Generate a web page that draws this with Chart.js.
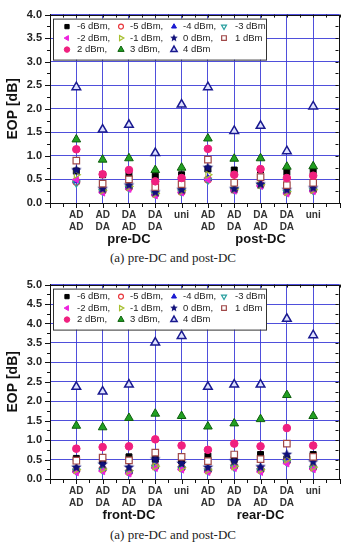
<!DOCTYPE html>
<html>
<head>
<meta charset="utf-8">
<script src="https://cdn.jsdelivr.net/npm/chart.js@4.4.0/dist/chart.umd.min.js"></script>
<style>
body{margin:0;background:#fff;width:346px;height:543px;position:relative;overflow:hidden}
canvas{position:absolute;left:0}
.cap{position:absolute;left:0;width:346px;text-align:center;font:13px/15px "Liberation Serif","DejaVu Serif",serif;color:#222}
</style>
</head>
<body>
<canvas id="c1" width="346" height="248" style="top:0"></canvas>
<div class="cap" style="top:250px">(a) pre-DC and post-DC</div>
<canvas id="c2" width="346" height="254" style="top:270px"></canvas>
<div class="cap" style="top:527px">(a) pre-DC and post-DC</div>
<script>
// categories and series
const catLabels = [['AD', 'AD'], ['AD', 'DA'], ['DA', 'AD'], ['DA', 'DA'], 'uni',
                   ['AD', 'AD'], ['AD', 'DA'], ['DA', 'AD'], ['DA', 'DA'], 'uni'];
const groupsA = ['pre-DC', 'post-DC'];
const groupsB = ['front-DC', 'rear-DC'];
const powers = ['-6 dBm', '-5 dBm', '-4 dBm', '-3 dBm', '-2 dBm', '-1 dBm',
                '0 dBm', '1 dBm', '2 dBm', '3 dBm', '4 dBm'];

// (a) pre-DC / post-DC
const preA_m6 = [0.68, 0.60, 0.61, 0.57, 0.60, 0.72, 0.70, 0.70, 0.65, 0.67];
const preA_m5 = [0.45, 0.26, 0.33, 0.19, 0.24, 0.50, 0.28, 0.38, 0.23, 0.27];
const preA_m4 = [0.47, 0.29, 0.36, 0.21, 0.27, 0.52, 0.31, 0.41, 0.26, 0.30];
const preA_m3 = [0.42, 0.24, 0.31, 0.18, 0.23, 0.48, 0.28, 0.37, 0.22, 0.26];
const preA_m2 = [0.50, 0.22, 0.30, 0.16, 0.22, 0.50, 0.26, 0.36, 0.20, 0.25];
const preA_m1 = [0.60, 0.27, 0.35, 0.20, 0.26, 0.60, 0.30, 0.39, 0.24, 0.28];
const preA_0 = [0.70, 0.30, 0.38, 0.23, 0.28, 0.75, 0.30, 0.40, 0.28, 0.32];
const preA_1 = [0.90, 0.41, 0.50, 0.34, 0.40, 0.92, 0.43, 0.55, 0.38, 0.43];
const preA_2 = [1.14, 0.61, 0.70, 0.46, 0.53, 1.15, 0.60, 0.72, 0.53, 0.58];
const preA_3 = [1.35, 0.92, 0.95, 0.70, 0.75, 1.37, 0.94, 0.95, 0.77, 0.78];
const preA_4 = [2.46, 1.56, 1.66, 1.06, 2.09, 2.46, 1.53, 1.64, 1.10, 2.05];

// (b) front-DC / rear-DC
const frB_m6 = [0.53, 0.46, 0.57, 0.51, 0.46, 0.59, 0.50, 0.63, 0.52, 0.63];
const frB_m5 = [0.22, 0.25, 0.18, 0.32, 0.28, 0.22, 0.32, 0.23, 0.45, 0.29];
const frB_m4 = [0.24, 0.27, 0.20, 0.34, 0.30, 0.24, 0.34, 0.25, 0.47, 0.31];
const frB_m3 = [0.20, 0.22, 0.16, 0.30, 0.26, 0.20, 0.30, 0.21, 0.42, 0.27];
const frB_m2 = [0.17, 0.20, 0.14, 0.28, 0.24, 0.18, 0.28, 0.18, 0.40, 0.25];
const frB_m1 = [0.24, 0.26, 0.21, 0.33, 0.29, 0.23, 0.33, 0.24, 0.50, 0.30];
const frB_0 = [0.30, 0.38, 0.30, 0.51, 0.40, 0.30, 0.46, 0.31, 0.63, 0.44];
const frB_1 = [0.47, 0.55, 0.48, 0.68, 0.57, 0.46, 0.63, 0.51, 0.91, 0.57];
const frB_2 = [0.78, 0.82, 0.84, 1.02, 0.86, 0.75, 0.91, 0.84, 1.31, 0.86];
const frB_3 = [1.37, 1.33, 1.57, 1.68, 1.62, 1.35, 1.43, 1.54, 2.16, 1.62];
const frB_4 = [2.37, 2.25, 2.43, 3.51, 3.68, 2.37, 2.43, 2.43, 4.12, 3.70];

const seriesA = [preA_m6, preA_m5, preA_m4, preA_m3, preA_m2, preA_m1, preA_0, preA_1, preA_2, preA_3, preA_4];
const seriesB = [frB_m6, frB_m5, frB_m4, frB_m3, frB_m2, frB_m1, frB_0, frB_1, frB_2, frB_3, frB_4];

const fontFam = '"Liberation Sans", Arial, sans-serif';
Chart.defaults.font.family = fontFam;
const gridCol = 'rgba(60,60,215,0.9)';

// filled five point star used as marker
function starCanvas(r) {
    const c = document.createElement('canvas');
    const s = Math.ceil(r * 2 + 2);
    c.width = s; c.height = s;
    const g = c.getContext('2d');
    g.fillStyle = '#10107a';
    g.beginPath();
    for (let k = 0; k < 10; k++) {
        const rr = k % 2 ? r * 0.45 : r;
        const ang = -Math.PI / 2 + k * Math.PI / 5;
        g.lineTo(s / 2 + rr * Math.cos(ang), s / 2 + rr * Math.sin(ang));
    }
    g.closePath();
    g.fill();
    return c;
}
const starBig = starCanvas(5.5);
const starSmall = starCanvas(4);

const marks = [
    {pointStyle: 'rect', pointBackgroundColor: '#000', pointBorderColor: '#000', pointRadius: 4.2, pointBorderWidth: 1},
    {pointStyle: 'circle', pointBackgroundColor: 'rgba(255,255,255,0)', pointBorderColor: '#e8383d', pointRadius: 3.4, pointBorderWidth: 1.2},
    {pointStyle: 'triangle', pointBackgroundColor: '#1a1ad0', pointBorderColor: '#1a1ad0', pointRadius: 4, pointBorderWidth: 1},
    {pointStyle: 'triangle', pointRotation: 180, pointBackgroundColor: 'rgba(255,255,255,0)', pointBorderColor: '#2aa0a0', pointRadius: 4, pointBorderWidth: 1.2},
    {pointStyle: 'triangle', pointRotation: 270, pointBackgroundColor: '#ee22dd', pointBorderColor: '#ee22dd', pointRadius: 4, pointBorderWidth: 1},
    {pointStyle: 'triangle', pointRotation: 90, pointBackgroundColor: 'rgba(255,255,255,0)', pointBorderColor: '#a8c030', pointRadius: 4, pointBorderWidth: 1.2},
    {pointStyle: starBig, legendStyle: starSmall, pointBackgroundColor: '#10107a', pointBorderColor: '#10107a', pointRadius: 5, pointBorderWidth: 0},
    {pointStyle: 'rect', pointBackgroundColor: '#fff', pointBorderColor: '#a04848', pointRadius: 4.6, pointBorderWidth: 1.2},
    {pointStyle: 'circle', pointBackgroundColor: '#f0207f', pointBorderColor: '#f0207f', pointRadius: 3.8, pointBorderWidth: 1},
    {pointStyle: 'triangle', pointBackgroundColor: '#22a022', pointBorderColor: '#0d5e0d', pointRadius: 5, pointBorderWidth: 1},
    {pointStyle: 'triangle', pointBackgroundColor: '#dfe2ff', pointBorderColor: '#1a1a90', pointRadius: 5, pointBorderWidth: 1.5}
];

const legMarkX = [14, 68, 121, 171];
const legTextX = [24, 77, 130, 182];
const legRowY = [8, 19.5, 31];

const boxLegend = {
    id: 'boxLegend',
    afterDraw(chart) {
        const ctx = chart.ctx, a = chart.chartArea;
        const bx = a.left + 3, by = a.top + 4, bw = 213, bh = 41;
        ctx.save();
        ctx.fillStyle = '#fff';
        ctx.fillRect(bx, by, bw, bh);
        ctx.strokeStyle = '#333';
        ctx.lineWidth = 1;
        ctx.strokeRect(bx + 0.5, by + 0.5, bw, bh);
        ctx.font = '9.5px ' + fontFam;
        ctx.textBaseline = 'middle';
        ctx.textAlign = 'left';
        chart.data.datasets.forEach((ds, i) => {
            const col = i % 4, row = Math.floor(i / 4);
            const mx = bx + legMarkX[col], my = by + legRowY[row];
            ctx.fillStyle = ds.pointBackgroundColor;
            ctx.strokeStyle = ds.pointBorderColor;
            ctx.lineWidth = ds.pointBorderWidth || 1;
            Chart.helpers.drawPoint(ctx, {
                pointStyle: ds.legendStyle || ds.pointStyle,
                rotation: ds.pointRotation || 0,
                radius: ds.pointRadius * 0.72,
                borderWidth: ds.pointBorderWidth
            }, mx, my);
            ctx.fillStyle = '#222';
            const txt = ds.label + ((col === 3 || i === powers.length - 1) ? '' : ',');
            ctx.fillText(txt, bx + legTextX[col], my);
        });
        ctx.restore();
    }
};

function frameFor(groups, yMax) {
    return {
        id: 'frame',
        afterDatasetsDraw(chart) {
            const ctx = chart.ctx, a = chart.chartArea;
            const xs = chart.scales.x, ys = chart.scales.y;
            ctx.save();
            ctx.strokeStyle = '#111';
            ctx.lineWidth = 1;
            ctx.strokeRect(Math.round(a.left) + 0.5, Math.round(a.top) + 0.5,
                Math.round(a.right - a.left) - 1, Math.round(a.bottom - a.top));
            ctx.beginPath();
            for (let v = 0; v <= 11; v += 0.5) {
                const px = Math.round(xs.getPixelForValue(v)) + 0.5;
                const len = Number.isInteger(v) ? 5 : 4;
                ctx.moveTo(px, a.bottom);
                ctx.lineTo(px, a.bottom + len);
                ctx.moveTo(px, a.top);
                ctx.lineTo(px, a.top + 3);
            }
            for (let v = 0; v <= yMax + 0.001; v += 0.25) {
                const py = Math.round(ys.getPixelForValue(v)) + 0.5;
                const major = Math.abs(v * 2 - Math.round(v * 2)) < 0.01;
                const len = major ? 5 : 3;
                ctx.moveTo(a.left - len, py);
                ctx.lineTo(a.left, py);
                ctx.moveTo(a.right - 1, py);
                ctx.lineTo(a.right - 4, py);
            }
            ctx.stroke();
            ctx.fillStyle = '#111';
            ctx.font = 'bold 13px ' + fontFam;
            ctx.textAlign = 'center';
            ctx.textBaseline = 'middle';
            ctx.fillText(groups[0], xs.getPixelForValue(3), a.bottom + 36);
            ctx.fillText(groups[1], xs.getPixelForValue(8), a.bottom + 36);
            ctx.restore();
        }
    };
}

function makeChart(id, series, yMax, groups, padTop) {
    const ctx = document.getElementById(id).getContext('2d');
    return new Chart(ctx, {
        type: 'scatter',
        data: {
            datasets: powers.map((p, i) => Object.assign({
                label: p,
                data: series[i].map((v, k) => ({x: k + 1, y: v})),
                order: 10 - i
            }, marks[i]))
        },
        options: {
            responsive: false,
            animation: false,
            layout: {padding: {top: padTop, right: 4, left: 0, bottom: 0}},
            plugins: {legend: {display: false}, tooltip: {enabled: false}},
            scales: {
                x: {
                    type: 'linear', min: 0, max: 11,
                    afterFit: s => { s.height = 45; },
                    grid: {color: gridCol, lineWidth: 1, drawTicks: false},
                    border: {color: '#111', width: 1},
                    ticks: {
                        stepSize: 1, autoSkip: false, maxRotation: 0, padding: 6,
                        color: '#333',
                        font: {size: 10, weight: 'bold', lineHeight: 1.2},
                        callback: v => (v >= 1 && v <= 10) ? catLabels[v - 1] : ''
                    }
                },
                y: {
                    min: 0, max: yMax,
                    afterFit: s => { s.width = 50; },
                    grid: {color: gridCol, lineWidth: 1, drawTicks: false},
                    border: {color: '#111', width: 1},
                    ticks: {
                        stepSize: 0.5, padding: 8, color: '#222',
                        font: {size: 11, weight: 'bold'},
                        callback: v => v.toFixed(1)
                    },
                    title: {
                        display: true, text: 'EOP [dB]', color: '#111',
                        font: {size: 14, weight: 'bold'},
                        padding: {top: 5, bottom: 0}
                    }
                }
            }
        },
        plugins: [frameFor(groups, yMax), boxLegend]
    });
}

makeChart('c1', seriesA, 4, groupsA, 5);
makeChart('c2', seriesB, 5, groupsB, 12);
</script>
</body>
</html>
